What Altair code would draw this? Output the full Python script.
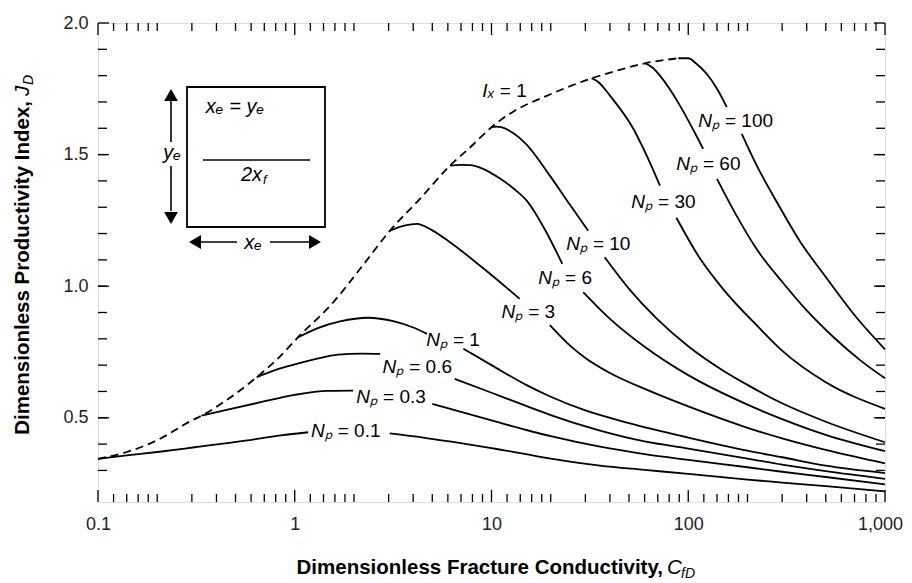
import altair as alt
import pandas as pd

W, H = 787, 479
F = "Liberation Sans, Arial, Helvetica, sans-serif"

# ---- Ix = 1 envelope (dashed) ----
dash_c = [0.1, 0.14, 0.2, 0.3, 0.336, 0.44, 0.64, 0.82, 1.04, 1.57, 2.15, 3.05, 4.33, 6.15,
          7.8, 10, 13, 18.4, 24.3, 32.3, 43.4, 60.3, 77, 89]
dash_j = [0.344, 0.37, 0.415, 0.49, 0.508, 0.562, 0.654, 0.725, 0.806, 0.939, 1.066, 1.211, 1.332,
          1.458, 1.528, 1.604, 1.665, 1.718, 1.756, 1.79, 1.819, 1.847, 1.86, 1.866]

# ---- Np curves (gap_after = index of last point before the label gap) ----
np01_c = [0.1, 0.14, 0.2, 0.31, 0.56, 0.85, 1.17, 3.04, 4.5, 6.15, 10, 20, 35.6, 60, 100, 200, 300, 500, 1000]
np01_j = [0.344, 0.357, 0.37, 0.388, 0.413, 0.433, 0.445, 0.441, 0.425, 0.41, 0.385, 0.345, 0.318, 0.302,
          0.287, 0.265, 0.254, 0.24, 0.22]
np03_c = [0.336, 0.45, 0.68, 1.0, 1.47, 1.98, 5.0, 7, 10, 20, 35.6, 60, 100, 200, 300, 500, 1000]
np03_j = [0.508, 0.53, 0.56, 0.587, 0.602, 0.603, 0.553, 0.522, 0.49, 0.43, 0.39, 0.362, 0.34, 0.312,
          0.295, 0.275, 0.247]
np06_c = [0.64, 0.8, 1.0, 1.3, 1.66, 2.2, 2.72, 6.5, 10, 15, 20, 35.6, 60, 100, 200, 300, 500, 1000]
np06_j = [0.654, 0.682, 0.703, 0.725, 0.74, 0.744, 0.743, 0.648, 0.595, 0.545, 0.51, 0.451, 0.41, 0.383,
          0.345, 0.322, 0.297, 0.268]
np1_c = [1.04, 1.3, 1.7, 2.36, 3.2, 4.0, 4.7, 7.2, 10, 15, 20, 30, 50, 100, 200, 300, 500, 1000]
np1_j = [0.806, 0.84, 0.866, 0.88, 0.866, 0.843, 0.819, 0.762, 0.70, 0.625, 0.58, 0.528, 0.48, 0.425,
         0.375, 0.35, 0.318, 0.29]
np3_c = [3.05, 3.6, 4.17, 5.0, 6.15, 9.08, 13.9, 19.8, 25, 30, 40, 64, 100, 200, 300, 500, 1000]
np3_j = [1.211, 1.23, 1.237, 1.212, 1.167, 1.068, 0.952, 0.852, 0.775, 0.727, 0.67, 0.601, 0.543, 0.462,
         0.422, 0.378, 0.327]
np6_c = [6.15, 7.0, 7.8, 9.0, 11, 13, 15.1, 19, 22.9, 29.3, 40, 60, 100, 200, 300, 500, 1000]
np6_j = [1.458, 1.461, 1.46, 1.447, 1.41, 1.37, 1.325, 1.205, 1.085, 0.977, 0.876, 0.77, 0.662, 0.55,
         0.495, 0.435, 0.373]
np10_c = [10, 10.6, 11.2, 13, 15, 19.8, 25, 31, 37.6, 50, 70, 100, 150, 200, 300, 500, 1000]
np10_j = [1.604, 1.606, 1.604, 1.58, 1.54, 1.42, 1.31, 1.211, 1.11, 0.99, 0.873, 0.772, 0.68, 0.625,
          0.555, 0.485, 0.407]
np30_c = [32.3, 35, 40, 52.6, 62, 71.8, 87, 115, 150, 232, 300, 500, 1000]
np30_j = [1.79, 1.775, 1.724, 1.598, 1.49, 1.382, 1.26, 1.104, 0.99, 0.838, 0.755, 0.635, 0.534]
np60_c = [60.3, 66, 71.8, 90.8, 105, 119, 140, 176, 223, 300, 400, 550, 750, 1000]
np60_j = [1.847, 1.83, 1.80, 1.686, 1.60, 1.522, 1.408, 1.268, 1.14, 1.017, 0.908, 0.805, 0.718, 0.65]
np100_c = [89, 100, 110, 124, 140, 157, 187, 223, 292, 370, 500, 718, 1000]
np100_j = [1.866, 1.866, 1.845, 1.807, 1.75, 1.68, 1.579, 1.458, 1.30, 1.17, 1.035, 0.88, 0.76]

curve_names = ["0.1", "0.3", "0.6", "1", "3", "6", "10", "30", "60", "100"]
curve_cs = [np01_c, np03_c, np06_c, np1_c, np3_c, np6_c, np10_c, np30_c, np60_c, np100_c]
curve_js = [np01_j, np03_j, np06_j, np1_j, np3_j, np6_j, np10_j, np30_j, np60_j, np100_j]
gap_after = [6, 5, 6, 6, 6, 8, 7, 5, 5, 5]

# ---- curve labels (split point between "Np" and "= value") ----
label_head = ["Nₚ"] * 10 + ["Iₓ"]
label_tail = ["= 100", "= 60", "= 30", "= 10", "= 6", "= 3", "= 1", "= 0.6", "= 0.3", "= 0.1", "= 1"]
label_c = [145, 112, 66.2, 30.9, 22.3, 14.5, 6.01, 3.6, 2.65, 1.56, 10.4]
label_j = [1.628, 1.465, 1.320, 1.161, 1.032, 0.902, 0.796, 0.693, 0.579, 0.450, 1.742]

# ---- axis ticks ----
x_major = [0.1, 1, 10, 100, 1000]
x_mult = [1.2, 1.4, 1.6, 1.8, 2, 3, 4, 5, 6, 7, 8, 9]
x_minor = [m * d for d in [0.1, 1, 10, 100] for m in x_mult]
y_ticks = [0.3, 0.4, 0.5, 0.6, 0.7, 0.8, 0.9, 1.0, 1.1, 1.2, 1.3, 1.4, 1.5, 1.6, 1.7, 1.8, 1.9]
y_labels = [0.5, 1.0, 1.5, 2.0]

rows = []
for name, cs, js, g in zip(curve_names, curve_cs, curve_js, gap_after):
    for i, (c, j) in enumerate(zip(cs, js)):
        rows.append({"curve": name, "seg": f"{name}-{0 if i <= g else 1}", "C": c, "J": j})
df = pd.DataFrame(rows)
ddf = pd.DataFrame({"C": dash_c, "J": dash_j})
ldf = pd.DataFrame({"C": label_c, "J": label_j, "head": label_head, "tail": label_tail})

xs = alt.Scale(type="log", domain=[0.1, 1000], nice=False)
ys = alt.Scale(domain=[0.18, 2.0], nice=False, zero=False)
X = alt.X("C:Q", scale=xs, axis=alt.Axis(
    values=x_major, format=",~g", title=None, ticks=False, domain=False, grid=False,
    labelFlush=False, labelOverlap=False, labelBound=False, labelPadding=13, labelFont=F,
    labelFontSize=18, labelColor="#222",
    labelOffset={"condition": {"test": "datum.value >= 1000", "value": -5}, "value": 0}))
Y = alt.Y("J:Q", scale=ys, axis=alt.Axis(values=y_labels, format=".1f", title=None, ticks=False,
                                          domain=False, grid=False, labelOverlap=False, labelPadding=10,
                                          labelFont=F, labelFontSize=18, labelColor="#222"))

LW = 1.8
lines = alt.Chart(df).mark_line(color="black", strokeWidth=LW, interpolate="monotone").encode(
    x=X, y=Y, detail="seg:N")
dashed = alt.Chart(ddf).mark_line(color="black", strokeWidth=LW, strokeDash=[8, 5],
                                  interpolate="monotone").encode(x=X, y=Y)
heads = alt.Chart(ldf).mark_text(align="right", baseline="middle", fontStyle="italic", fontSize=19,
                                 font=F, color="black").encode(x=X, y=Y, text="head:N")
tails = alt.Chart(ldf).mark_text(align="left", baseline="middle", dx=5, fontSize=19,
                                 font=F, color="black").encode(x=X, y=Y, text="tail:N")

# inward ticks
def xticks(vals, ln):
    d = pd.DataFrame({"C": vals})
    b = alt.Chart(d).mark_rule(color="black", strokeWidth=1.3).encode(
        x=X, y=alt.value(H), y2=alt.value(H - ln))
    t = alt.Chart(d).mark_rule(color="black", strokeWidth=1.3).encode(
        x=X, y=alt.value(0), y2=alt.value(ln))
    return [b, t]

def yticks(vals, ln):
    d = pd.DataFrame({"J": vals})
    l = alt.Chart(d).mark_rule(color="black", strokeWidth=1.3).encode(
        y=Y, x=alt.value(0), x2=alt.value(ln))
    r = alt.Chart(d).mark_rule(color="black", strokeWidth=1.3).encode(
        y=Y, x=alt.value(W), x2=alt.value(W - ln))
    return [l, r]

one = pd.DataFrame({"k": [0]})

def seg(x1, y1, x2, y2, w=1.6):
    return alt.Chart(one).mark_rule(color="black", strokeWidth=w).encode(
        x=alt.value(x1), y=alt.value(y1), x2=alt.value(x2), y2=alt.value(y2))

def txt(s, x, y, size=18, style="normal", weight="normal", align="center", baseline="middle", angle=0):
    return alt.Chart(one).mark_text(text=s, fontSize=size, fontStyle=style, fontWeight=weight, align=align,
                                    baseline=baseline, angle=angle, font=F, color="black").encode(
        x=alt.value(x), y=alt.value(y))

def head(shape, x, y, size=190):
    return alt.Chart(one).mark_point(shape=shape, filled=True, size=size, color="black", opacity=1).encode(
        x=alt.value(x), y=alt.value(y))

# inset diagram
box = alt.Chart(one).mark_rect(fillOpacity=0, stroke="black", strokeWidth=1.8).encode(
    x=alt.value(89), x2=alt.value(227), y=alt.value(64), y2=alt.value(204))
inset = [
    box,
    seg(105, 137, 212, 137),
    seg(73, 78, 73, 119), seg(73, 143, 73, 188),
    head("triangle-up", 73, 72), head("triangle-down", 73, 195),
    seg(96, 219, 139, 219), seg(172, 219, 218, 219),
    head("triangle-left", 97, 219), head("triangle-right", 217, 219),
    txt("xₑ = yₑ", 137, 84, size=20, style="italic"),
    txt("yₑ", 74, 130, size=20, style="italic"),
    txt("xₑ", 155, 220, size=20, style="italic"),
    txt("2x", 164, 152, size=20, style="italic", align="right"),
    txt("f", 165, 157, size=13, style="italic", align="left"),
]

# axis titles
titles = [
    txt("Dimensionless Productivity Index,", -69, 78, size=20.5, weight="bold", align="right",
        baseline="alphabetic", angle=270),
    txt("J", -69, 73, size=20.5, style="italic", align="left", baseline="alphabetic", angle=270),
    txt("D", -65, 62, size=14, style="italic", align="left", baseline="alphabetic", angle=270),
    txt("Dimensionless Fracture Conductivity,", 565, 551, size=20.5, weight="bold", align="right",
        baseline="alphabetic"),
    txt("C", 569, 551, size=20.5, style="italic", align="left", baseline="alphabetic"),
    txt("fD", 583, 555, size=14, style="italic", align="left", baseline="alphabetic"),
]

layers = [lines, dashed, heads, tails] + xticks(x_major, 12) + xticks(x_minor, 8) + \
    yticks(y_labels, 11) + yticks(y_ticks, 9) + inset + titles

chart = alt.layer(*layers).properties(
    width=W, height=H,
    autosize=alt.AutoSizeParams(type="none"),
    padding={"left": 90, "top": 15, "right": 19, "bottom": 78},
).configure_view(stroke="black", strokeWidth=2).configure(background="white")

chart.save("out.html", embed_options={"renderer": "svg", "actions": False})
